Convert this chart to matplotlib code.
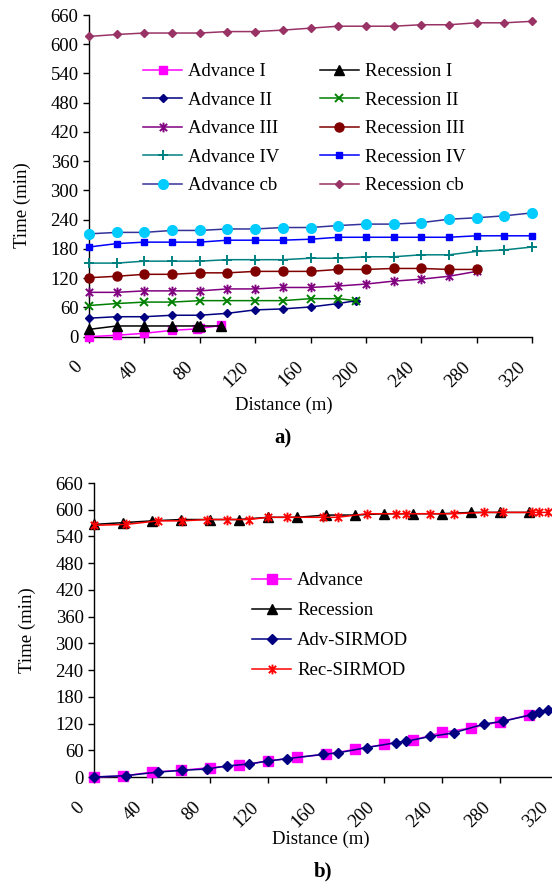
import matplotlib
matplotlib.use("Agg")
import matplotlib.pyplot as plt
from matplotlib.path import Path
from matplotlib.transforms import ScaledTranslation

plt.rcParams['font.family'] = ['Liberation Serif', 'DejaVu Serif']
plt.rcParams['font.size'] = 13.5

# ---- (a) advance / recession curves for the individual furrows ----
adv1_x = [0, 20, 40, 60, 78, 80, 95]
adv1_y = [0, 3, 7, 13, 16, 17, 23]
rec1_x = [0, 20, 40, 60, 78, 80, 95]
rec1_y = [15, 22, 22, 22, 22, 22, 22]

adv2_x = [0, 20, 40, 60, 80, 100, 120, 140, 160, 180, 193]
adv2_y = [38, 41, 41, 44, 44, 48, 55, 57, 61, 68, 74]
rec2_x = [0, 20, 40, 60, 80, 100, 120, 140, 160, 180, 193]
rec2_y = [64, 68, 71, 71, 74, 74, 74, 74, 78, 78, 74]

adv3_x = [0, 20, 40, 60, 80, 100, 120, 140, 160, 180, 200, 220, 240, 260, 280]
adv3_y = [91, 91, 94, 94, 94, 98, 98, 101, 101, 104, 108, 114, 118, 124, 134]
rec3_x = [0, 20, 40, 60, 80, 100, 120, 140, 160, 180, 200, 220, 240, 260, 280]
rec3_y = [121, 124, 128, 128, 131, 131, 134, 134, 134, 138, 138, 140, 140, 138, 138]

full_x = [0, 20, 40, 60, 80, 100, 120, 140, 160, 180, 200, 220, 240, 260, 280, 300, 320]
adv4_y = [151, 151, 155, 155, 155, 158, 158, 158, 161, 161, 164, 164, 168, 168, 175, 178, 184]
rec4_y = [184, 191, 194, 194, 194, 198, 198, 198, 200, 204, 204, 204, 204, 204, 207, 207, 207]
advcb_y = [211, 214, 214, 218, 218, 221, 221, 224, 224, 228, 231, 231, 234, 241, 244, 248, 254]
reccb_y = [616, 620, 623, 623, 623, 626, 626, 629, 633, 637, 637, 637, 640, 640, 644, 644, 647]

# ---- (b) measured vs. SIRMOD simulated ----
meas_x = [0, 20, 40, 60, 80, 100, 120, 140, 160, 180, 200, 220, 240, 260, 280, 300]
adv_y = [0, 2, 11, 15, 21, 26, 36, 44, 51, 62, 73, 83, 100, 110, 124, 139]
rec_y = [567, 571, 575, 578, 578, 578, 583, 583, 588, 588, 591, 591, 591, 594, 594, 594]
sim_x = [0, 22, 44, 61, 78, 92, 107, 120, 133, 158, 168, 188, 208, 215, 232, 248, 269, 282, 302, 307, 313]
advsim_y = [0, 3, 11, 15, 18, 25, 29, 36, 41, 51, 54, 66, 77, 80, 91, 99, 119, 125, 140, 146, 151]
recsim_y = [565, 567, 575, 575, 578, 578, 578, 583, 583, 583, 583, 591, 591, 591, 591, 591, 594, 594, 594, 594, 594]

x_ticks = [0, 40, 80, 120, 160, 200, 240, 280, 320]
y_ticks = [0, 60, 120, 180, 240, 300, 360, 420, 480, 540, 600, 660]

# asterisk marker: a cross with a vertical bar
ASTER = Path([(0, -1), (0, 1), (-0.75, -0.75), (0.75, 0.75), (-0.75, 0.75), (0.75, -0.75)],
             [Path.MOVETO, Path.LINETO, Path.MOVETO, Path.LINETO, Path.MOVETO, Path.LINETO])

W, H = 552, 886
fig = plt.figure(figsize=(W / 100, H / 100), dpi=100)


def px_axes(left, right, top, bottom):
    return fig.add_axes([left / W, 1 - bottom / H, (right - left) / W, (bottom - top) / H])


def style_axes(ax, xmax, shift_px):
    ax.set_xlim(0, xmax)
    ax.set_ylim(0, 660)
    ax.set_xticks(x_ticks)
    ax.set_yticks(y_ticks)
    for s in ('top', 'right'):
        ax.spines[s].set_visible(False)
    for s in ('left', 'bottom'):
        ax.spines[s].set_linewidth(1.0)
    ax.tick_params(direction='out', length=4, width=1.0, labelsize=13.5)
    ax.tick_params(axis='x', pad=16)
    off = ScaledTranslation(-shift_px / 100, 0, fig.dpi_scale_trans)
    for lab in ax.get_xticklabels():
        lab.set_rotation(45)
        lab.set_ha('right')
        lab.set_va('center')
        lab.set_rotation_mode('anchor')
        lab.set_transform(lab.get_transform() + off)


lw = 1.1

# ---------------- panel a ----------------
ax1 = px_axes(89, 532, 15, 336.7)
style_axes(ax1, 320, 9)
series_a = [
    (adv1_x, adv1_y, dict(color='#FF00FF', marker='s', ms=6, mfc='#FF00FF', mec='#FF00FF'), 'Advance I'),
    (rec1_x, rec1_y, dict(color='black', marker='^', ms=6.5, mfc='black', mec='black'), 'Recession I'),
    (adv2_x, adv2_y, dict(color='#000080', marker='D', ms=4.5, mfc='#000080', mec='#000080'), 'Advance II'),
    (rec2_x, rec2_y, dict(color='#008000', marker='x', ms=6, mew=1.4, mec='#008000'), 'Recession II'),
    (adv3_x, adv3_y, dict(color='#800080', marker=ASTER, ms=7, mew=1.4, mec='#800080', mfc='none'), 'Advance III'),
    (rec3_x, rec3_y, dict(color='#800000', marker='o', ms=6.5, mfc='#800000', mec='#800000'), 'Recession III'),
    (full_x, adv4_y, dict(color='#008080', marker='+', ms=7, mew=1.4, mec='#008080'), 'Advance IV'),
    (full_x, rec4_y, dict(color='#0000FF', marker='s', ms=4.5, mfc='#0000FF', mec='#0000FF'), 'Recession IV'),
    (full_x, advcb_y, dict(color='#333399', marker='o', ms=7, mfc='#00CCFF', mec='#00CCFF'), 'Advance cb'),
    (full_x, reccb_y, dict(color='#993366', marker='D', ms=4.5, mfc='#993366', mec='#993366'), 'Recession cb'),
]
handles_a = []
for x, y, kw, lab in series_a:
    h, = ax1.plot(x, y, lw=lw, label=lab, clip_on=False, zorder=3, **kw)
    handles_a.append(h)

# two-column legend: advance left, recession right
order = [0, 2, 4, 6, 8, 1, 3, 5, 7, 9]
ax1.legend([handles_a[i] for i in order], [series_a[i][3] for i in order],
           ncol=2, frameon=False, loc='upper left',
           bbox_to_anchor=(143 / W, 1 - 63 / H), bbox_transform=fig.transFigure,
           borderaxespad=0, borderpad=0, handlelength=2.1, handletextpad=0.3,
           columnspacing=2.15, labelspacing=0.61, fontsize=13.5, numpoints=1)

fig.text(284 / W, 1 - 405 / H, 'Distance (m)', ha='center', va='center', fontsize=13.5)
fig.text(22 / W, 1 - 205 / H, 'Time (min)', ha='center', va='center', rotation=90, fontsize=13.5)
fig.text(283 / W, 1 - 438 / H, 'a)', ha='center', va='center', fontsize=15, fontweight='bold')

# ---------------- panel b ----------------
ax2 = px_axes(94, 558, 483, 777)
style_axes(ax2, 320, 12)
series_b = [
    (meas_x, adv_y, dict(color='#FF00FF', marker='s', ms=6.5, mfc='#FF00FF', mec='#FF00FF'), 'Advance'),
    (meas_x, rec_y, dict(color='black', marker='^', ms=6.5, mfc='black', mec='black'), 'Recession'),
    (sim_x, advsim_y, dict(color='#000080', marker='D', ms=5, mfc='#000080', mec='#000080'), 'Adv-SIRMOD'),
    (sim_x, recsim_y, dict(color='#FF0000', marker=ASTER, ms=7, mew=1.4, mec='#FF0000', mfc='none'), 'Rec-SIRMOD'),
]
for x, y, kw, lab in series_b:
    ax2.plot(x, y, lw=lw, label=lab, clip_on=False, zorder=3, **kw)

ax2.legend(frameon=False, loc='upper left',
           bbox_to_anchor=(252 / W, 1 - 572 / H), bbox_transform=fig.transFigure,
           borderaxespad=0, borderpad=0, handlelength=2.1, handletextpad=0.3,
           labelspacing=0.69, fontsize=13.5, numpoints=1)

fig.text(321 / W, 1 - 839 / H, 'Distance (m)', ha='center', va='center', fontsize=13.5)
fig.text(27 / W, 1 - 630 / H, 'Time (min)', ha='center', va='center', rotation=90, fontsize=13.5)
fig.text(323 / W, 1 - 871 / H, 'b)', ha='center', va='center', fontsize=15, fontweight='bold')

fig.savefig('out.png', dpi=100)
